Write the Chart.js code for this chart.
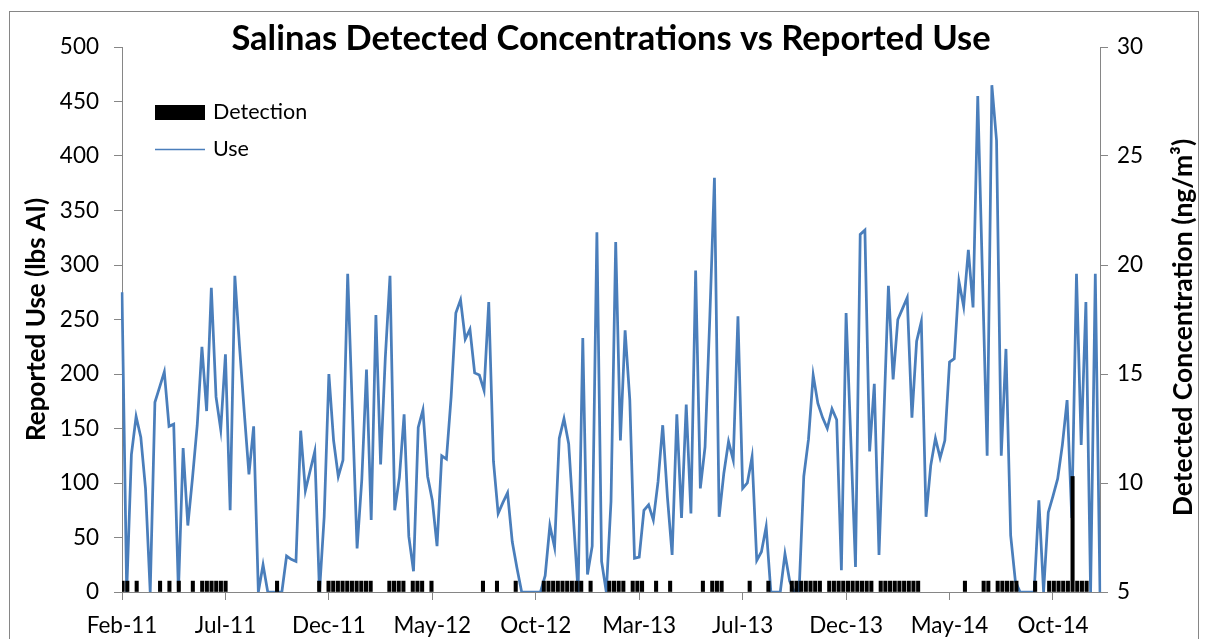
<!DOCTYPE html>
<html>
<head>
<meta charset="utf-8">
<script src="https://cdn.jsdelivr.net/npm/chart.js@4.4.1/dist/chart.umd.min.js"></script>
<style>
  html, body { margin: 0; padding: 0; background: #fff; }
  #wrap { width: 1208px; height: 639px; position: relative; }
</style>
</head>
<body>
<div id="wrap"><canvas id="myChart"></canvas></div>
<script>
// tick labels on the date axis, one every 22 weekly samples
const tickLabels = ['Feb-11', 'Jul-11', 'Dec-11', 'May-12', 'Oct-12', 'Mar-13', 'Jul-13', 'Dec-13', 'May-14', 'Oct-14'];
const labelStep = 22;

// reported use (lbs AI), weekly
const use = [
  275, 0, 126, 161, 142, 95, 0, 174, 188, 202, 152, 154, 0, 132, 61, 105, 153, 225, 166, 279, 179, 149,
  218, 75, 290, 225, 165, 108, 152, 0, 25, 0, 0, 0, 0, 33, 30, 28, 148, 93, 111, 129, 0, 69,
  200, 139, 106, 121, 292, 166, 40, 103, 204, 66, 254, 117, 215, 290, 75, 105, 163, 51, 19, 151, 167, 106,
  84, 42, 125, 122, 179, 256, 268, 232, 241, 201, 199, 185, 266, 120, 72, 82, 91, 46, 22, 0, 0, 0,
  0, 0, 15, 61, 41, 141, 159, 136, 68, 0, 233, 16, 42, 330, 28, 0, 83, 321, 139, 240, 176, 31,
  32, 75, 80, 66, 101, 153, 87, 34, 163, 68, 172, 72, 295, 95, 133, 250, 380, 69, 109, 138, 121, 253,
  95, 100, 124, 29, 37, 60, 0, 0, 0, 35, 10, 0, 0, 106, 140, 199, 173, 160, 150, 168, 158, 20,
  256, 140, 23, 328, 332, 129, 191, 34, 157, 281, 195, 250, 260, 270, 160, 230, 248, 69, 116, 141, 123, 139,
  211, 214, 285, 262, 314, 261, 455, 290, 125, 465, 414, 125, 223, 52, 10, 0, 0, 0, 0, 84, 0, 73,
  88, 104, 135, 176, 68, 292, 135, 266, 0, 292, 0
];

// detected concentration (ng/m3), null = nothing drawn that week
const n = null;
const detection = [
  5.5, 5.5, n, 5.5, n, n, n, n, 5.5, n, 5.5, n, 5.5, n, n, 5.5, n, 5.5, 5.5, 5.5, 5.5, 5.5,
  5.5, n, n, n, n, n, n, n, n, n, n, 5.5, n, n, n, n, n, n, n, n, 5.5, n,
  5.5, 5.5, 5.5, 5.5, 5.5, 5.5, 5.5, 5.5, 5.5, 5.5, n, n, n, 5.5, 5.5, 5.5, 5.5, n, 5.5, 5.5, 5.5, n,
  5.5, n, n, n, n, n, n, n, n, n, n, 5.5, n, n, 5.5, n, n, n, 5.5, n, n, n,
  n, n, 5.5, 5.5, 5.5, 5.5, 5.5, 5.5, 5.5, 5.5, 5.5, n, 5.5, n, n, n, 5.5, 5.5, 5.5, 5.5, n, 5.5,
  5.5, 5.5, n, n, 5.5, n, n, 5.5, n, n, n, n, n, n, 5.5, n, 5.5, 5.5, 5.5, n, n, n,
  n, n, 5.5, n, n, n, 5.5, n, n, n, n, 5.5, 5.5, 5.5, 5.5, 5.5, 5.5, 5.5, n, 5.5, 5.5, 5.5,
  5.5, 5.5, 5.5, 5.5, 5.5, 5.5, 5.5, 4.93, 5.5, 5.5, 5.5, 5.5, 5.5, 5.5, 5.5, 5.5, 5.5, 4.93, 4.93, 4.93, 4.93, 4.93,
  4.93, 4.93, 4.93, 4.93, 5.5, 4.93, 4.93, 4.93, 5.5, 5.5, 4.93, 5.5, 5.5, 5.5, 5.5, 5.5, 4.93, 4.93, 4.93, 5.5, 4.93, 4.93,
  5.5, 5.5, 5.5, 5.5, 5.5, 10.3, 5.5, 5.5, 5.5, 4.93, n
];

const weeks = use.map((v, i) => (i % labelStep === 0 ? tickLabels[i / labelStep] : ''));

const lineColor = '#4A7EBB';
const axisColor = '#868686';
const rightTitle = 'Detected Concentration (ng/m³)';
Chart.defaults.font.family = 'Lato';
Chart.defaults.color = '#000';

// legend sits inside the plot, like the excel one
const legendBox = {
  id: 'legendBox',
  afterDraw(chart) {
    const ctx = chart.ctx;
    const ds = chart.data.datasets;
    ctx.save();
    ctx.fillStyle = '#000';
    ctx.fillRect(155, 105, 50, 15);
    ctx.strokeStyle = lineColor;
    ctx.lineWidth = 1.5;
    ctx.beginPath();
    ctx.moveTo(155, 149.5);
    ctx.lineTo(205, 149.5);
    ctx.stroke();
    ctx.font = '21.5px Lato';
    ctx.textBaseline = 'middle';
    ctx.fillStyle = '#000';
    ctx.fillText(ds[0].label, 213, 112);
    ctx.fillText(ds[1].label, 213, 149);

    // right axis title reads bottom-to-top in the original
    const y2 = chart.scales.y2;
    ctx.translate(1183, (y2.top + y2.bottom) / 2 + 8);
    ctx.rotate(-Math.PI / 2);
    ctx.font = 'bold 26.5px Lato';
    ctx.textAlign = 'center';
    ctx.fillText(rightTitle, 0, 0);
    ctx.restore();
  }
};

const frame = {
  id: 'frame',
  beforeDraw(chart) {
    const ctx = chart.ctx;
    ctx.save();
    ctx.strokeStyle = axisColor;
    ctx.lineWidth = 1;
    ctx.strokeRect(9.5, 11.5, 1189, 700);
    ctx.restore();
  }
};

const ctx = document.getElementById('myChart').getContext('2d');
const myChart = new Chart(ctx, {
  type: 'bar',
  data: {
    labels: weeks,
    datasets: [{
      type: 'bar',
      label: 'Detection',
      data: detection,
      xAxisID: 'x2',
      yAxisID: 'y2',
      backgroundColor: '#000',
      barThickness: 3.4,
      base: 5,
      order: 0
    }, {
      type: 'line',
      label: 'Use',
      data: use,
      xAxisID: 'x',
      yAxisID: 'y',
      borderColor: lineColor,
      borderWidth: 2.75,
      pointRadius: 0,
      tension: 0,
      fill: false,
      order: 1
    }]
  },
  options: {
    responsive: true,
    maintainAspectRatio: false,
    animation: false,
    layout: { padding: 0 },
    plugins: {
      legend: { display: false },
      tooltip: { enabled: false },
      title: {
        display: true,
        fullSize: false,
        text: 'Salinas Detected Concentrations vs Reported Use',
        color: '#000',
        font: { size: 34.5, weight: 'bold', lineHeight: 1 },
        padding: { top: 22, bottom: -9.5 }
      }
    },
    scales: {
      x: {
        type: 'category',
        offset: false,
        afterBuildTicks: s => { s.ticks = s.ticks.filter(t => t.value % labelStep === 0); },
        afterFit: s => { s.height = 47; },
        grid: { display: true, drawOnChartArea: false, offset: false, tickLength: 8, color: axisColor },
        border: { display: true, color: axisColor },
        ticks: { autoSkip: false, maxRotation: 0, padding: 12, font: { size: 22.5 } }
      },
      x2: {
        type: 'category',
        offset: true,
        display: false
      },
      y: {
        position: 'left',
        min: 0,
        max: 500,
        afterFit: s => { s.width = 122; },
        ticks: { stepSize: 50, padding: 15, font: { size: 22.5 } },
        grid: { display: true, drawOnChartArea: false, tickLength: 8, color: axisColor },
        border: { display: true, color: axisColor },
        title: {
          display: true,
          text: 'Reported Use (lbs AI)',
          font: { size: 26, weight: 'bold' },
          padding: { top: 21, bottom: 0 }
        }
      },
      y2: {
        position: 'right',
        min: 5,
        max: 30,
        afterFit: s => { s.width = 108; },
        ticks: { stepSize: 5, padding: 9, font: { size: 22.5 } },
        grid: { display: true, drawOnChartArea: false, tickLength: 8, color: axisColor },
        border: { display: true, color: axisColor }
      }
    }
  },
  plugins: [frame, legendBox]
});
</script>
</body>
</html>
